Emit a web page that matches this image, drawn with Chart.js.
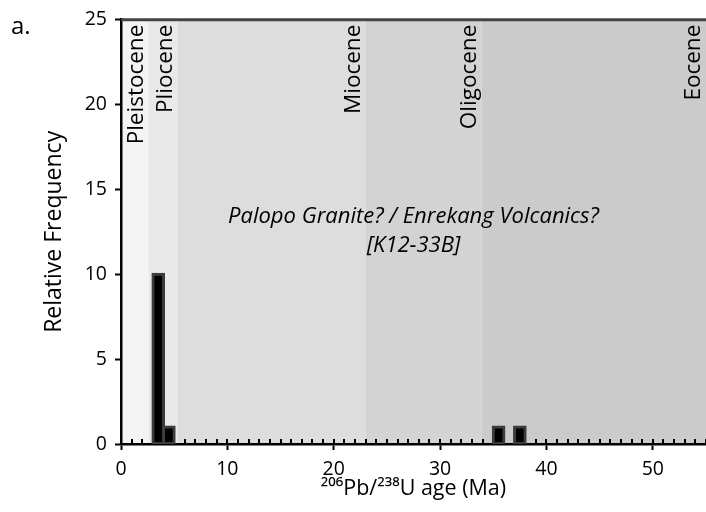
<!DOCTYPE html>
<html>
<head>
<meta charset="utf-8">
<script src="https://cdn.jsdelivr.net/npm/chart.js@4"></script>
<style>
html,body{margin:0;padding:0;background:#fff;}
#wrap{width:706px;height:512px;position:relative;}
</style>
</head>
<body>
<div id="wrap"><canvas id="c" width="706" height="512"></canvas></div>
<script>
// Histogram bins (bin centres, Ma) and relative frequencies
const binCenters = [3.5, 4.5, 35.5, 37.5];
const binCounts  = [10, 1, 1, 1];

// Geological epochs (Ma)
const epochNames  = ['Pleistocene', 'Pliocene', 'Miocene', 'Oligocene', 'Eocene'];
const epochStart  = [0, 2.58, 5.33, 23.03, 33.9];
const epochEnd    = [2.58, 5.33, 23.03, 33.9, 55];
const epochColors = ['#f4f4f4', '#e9e9e9', '#dddddd', '#d3d3d3', '#cbcbcb'];

// Axis ranges / ticks
const xMin = 0, xMax = 55, xMinorStep = 1, xMajorStep = 10;
const yMin = 0, yMax = 25, yStep = 5;

const annotationLines = ['Palopo Granite? / Enrekang Volcanics?', '[K12-33B]'];
const panelLabel = 'a.';
const FONT = "'Open Sans', 'Noto Sans', sans-serif";

const decorPlugin = {
  id: 'decor',
  beforeDraw(chart) {
    const {ctx, chartArea: a, scales: {x}} = chart;
    ctx.save();
    for (let i = 0; i < epochNames.length; i++) {
      const x0 = x.getPixelForValue(epochStart[i]);
      const x1 = x.getPixelForValue(epochEnd[i]);
      ctx.fillStyle = epochColors[i];
      ctx.fillRect(x0, a.top, x1 - x0, a.bottom - a.top);
    }
    ctx.restore();
  },
  beforeDatasetsDraw(chart) {
    const {ctx, chartArea: a, scales: {x, y}} = chart;
    ctx.save();
    // minor ticks pointing into plot
    ctx.strokeStyle = '#000';
    ctx.lineWidth = 2;
    for (let v = xMin; v <= xMax; v += xMinorStep) {
      const px = Math.round(x.getPixelForValue(v));
      ctx.beginPath();
      ctx.moveTo(px, a.bottom);
      ctx.lineTo(px, a.bottom - 5);
      ctx.stroke();
    }
    // epoch labels
    ctx.fillStyle = '#000';
    ctx.font = "22.5px " + FONT;
    ctx.textAlign = 'right';
    ctx.textBaseline = 'bottom';
    for (let i = 0; i < epochNames.length; i++) {
      const x1 = x.getPixelForValue(epochEnd[i]);
      ctx.save();
      ctx.translate(x1 - 1, a.top + 5);
      ctx.rotate(-Math.PI / 2);
      ctx.fillText(epochNames[i], 0, 0);
      ctx.restore();
    }
    // annotation
    ctx.font = "italic 22px " + FONT;
    ctx.textAlign = 'center';
    ctx.textBaseline = 'middle';
    const cx = x.getPixelForValue(27.5);
    ctx.fillText(annotationLines[0], cx, y.getPixelForValue(13.4));
    ctx.fillText(annotationLines[1], cx, y.getPixelForValue(11.7));
    ctx.restore();
  },
  afterDraw(chart) {
    const {ctx, chartArea: a} = chart;
    ctx.save();
    ctx.strokeStyle = '#444';
    ctx.lineWidth = 3;
    ctx.beginPath();
    ctx.moveTo(a.left, a.top);
    ctx.lineTo(a.right, a.top);
    ctx.stroke();
    ctx.fillStyle = '#000';
    ctx.font = "24px " + FONT;
    ctx.textAlign = 'left';
    ctx.textBaseline = 'alphabetic';
    ctx.fillText(panelLabel, 11, 34);
    ctx.restore();
  }
};

new Chart(document.getElementById('c'), {
  type: 'bar',
  data: {
    datasets: [{
      data: binCenters.map((c, i) => ({x: c, y: binCounts[i]})),
      backgroundColor: '#000',
      borderColor: '#3c3c3c',
      borderWidth: 3,
      borderSkipped: false,
      inflateAmount: 1.5,
      barPercentage: 1,
      categoryPercentage: 1
    }]
  },
  options: {
    responsive: false,
    animation: false,
    devicePixelRatio: 1,
    layout: {padding: {top: 19, right: 0, left: 0, bottom: 0}},
    plugins: {legend: {display: false}, tooltip: {enabled: false}},
    scales: {
      x: {
        type: 'linear',
        min: xMin, max: xMax,
        offset: false,
        afterFit: s => { s.height = 68; s.paddingRight = 0; s.paddingLeft = 0; },
        grid: {
          offset: false,
          drawOnChartArea: false,
          drawTicks: true,
          tickLength: 6,
          tickWidth: 2,
          tickColor: c => (c.tick && c.tick.value % xMajorStep === 0) ? '#000' : 'rgba(0,0,0,0)'
        },
        border: {display: true, color: '#000', width: 2.5},
        ticks: {
          stepSize: xMinorStep,
          autoSkip: false,
          maxRotation: 0,
          padding: 8,
          color: '#000',
          font: {family: FONT, size: 19.5},
          callback: v => (v % xMajorStep === 0 ? String(v) : '')
        },
        title: {
          display: true,
          text: '²⁰⁶Pb/²³⁸U age (Ma)',
          color: '#000',
          font: {family: FONT, size: 21.5},
          padding: {top: 0, bottom: 10}
        }
      },
      y: {
        min: yMin, max: yMax,
        afterFit: s => { s.width = 121; },
        grid: {
          drawOnChartArea: false,
          drawTicks: true,
          tickLength: 6,
          tickWidth: 2,
          tickColor: '#000'
        },
        border: {display: true, color: '#000', width: 2.5},
        ticks: {
          stepSize: yStep,
          padding: 8,
          color: '#000',
          font: {family: FONT, size: 19.5}
        },
        title: {
          display: true,
          text: 'Relative Frequency',
          color: '#000',
          font: {family: FONT, size: 23},
          padding: {top: 41, bottom: 0}
        }
      }
    }
  },
  plugins: [decorPlugin]
});
</script>
</body>
</html>
